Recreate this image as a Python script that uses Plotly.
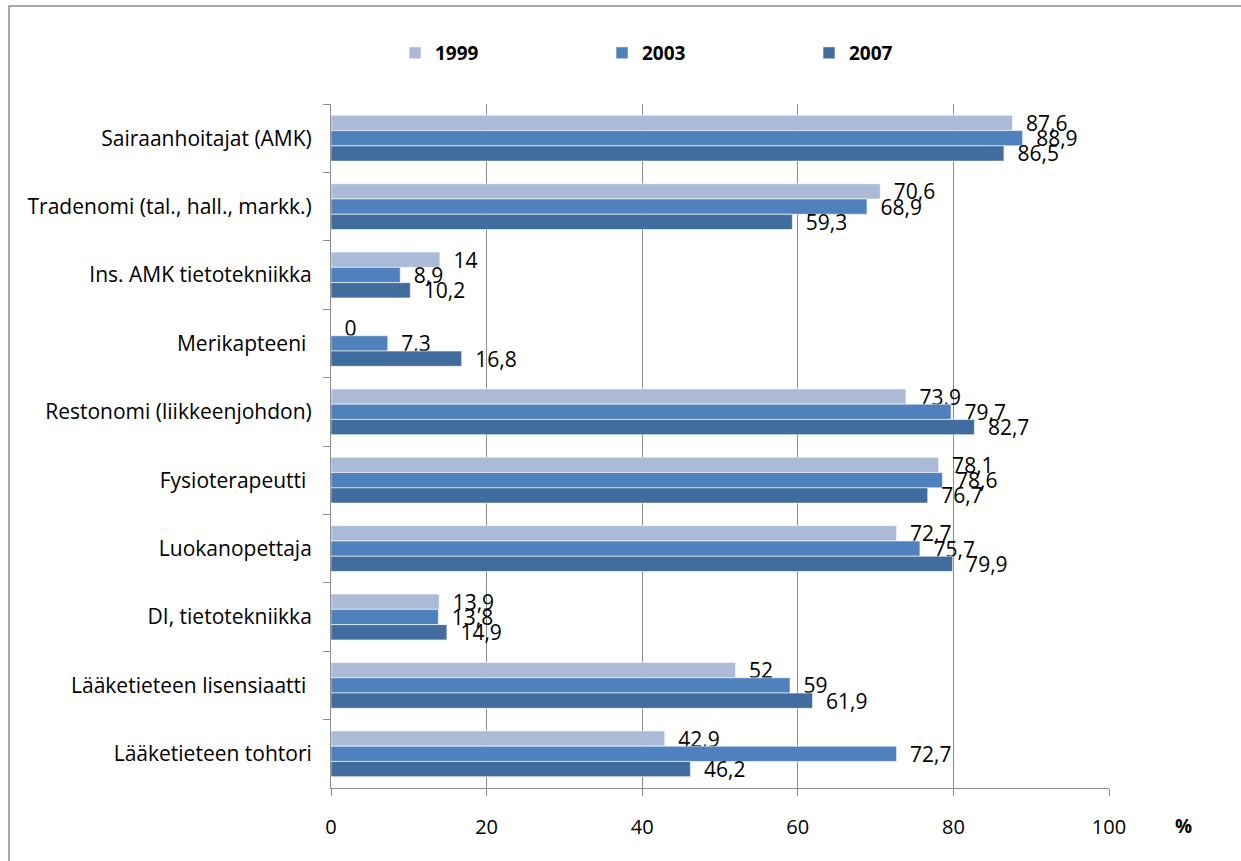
import plotly.graph_objects as go

categories = [
    "Sairaanhoitajat (AMK)",
    "Tradenomi (tal., hall., markk.)",
    "Ins. AMK tietotekniikka",
    "Merikapteeni\u00a0",
    "Restonomi (liikkeenjohdon)",
    "Fysioterapeutti\u00a0",
    "Luokanopettaja",
    "DI, tietotekniikka",
    "Lääketieteen lisensiaatti\u00a0",
    "Lääketieteen tohtori",
]
series_names = ["1999", "2003", "2007"]
values_1999 = [87.6, 70.6, 14, 0, 73.9, 78.1, 72.7, 13.9, 52, 42.9]
values_2003 = [88.9, 68.9, 8.9, 7.3, 79.7, 78.6, 75.7, 13.8, 59, 72.7]
values_2007 = [86.5, 59.3, 10.2, 16.8, 82.7, 76.7, 79.9, 14.9, 61.9, 46.2]
x_ticks = [0, 20, 40, 60, 80, 100]
colors = ["#AABAD7", "#4F81BD", "#416C9E"]

FONT = "Open Sans"

def lab(v):
    return "\u2002" + f"{v:g}".replace(".", ",")

fig = go.Figure()
for name, vals, col in zip(series_names, [values_1999, values_2003, values_2007], colors):
    fig.add_trace(go.Bar(
        y=categories, x=vals, name=name, orientation="h",
        marker=dict(color=col, line=dict(color="rgba(255,255,255,0.6)", width=1)),
        text=[lab(v) for v in vals], textposition="outside", constraintext="none",
        textfont=dict(family=FONT, size=21, color="black"),
        cliponaxis=False, hoverinfo="x+y",
    ))

W, H = 1241, 861
L, R, T, B = 331, 1109, 104, 788
pw, ph = R - L, B - T

fig.update_layout(
    width=W, height=H,
    margin=dict(l=L, r=W - R, t=T, b=H - B, autoexpand=False),
    paper_bgcolor="white", plot_bgcolor="white",
    barmode="group", bargap=0.33, bargroupgap=0,
    font=dict(family=FONT, size=18, color="black"),
    legend=dict(
        orientation="h", x=(395 - L) / pw, xanchor="left",
        y=1 + (T - 53) / ph, yanchor="middle",
        font=dict(family=FONT, size=19, color="black", weight="bold"),
        entrywidth=162, entrywidthmode="pixels", traceorder="normal",
        bgcolor="rgba(0,0,0,0)", itemwidth=30,
    ),
    showlegend=True,
)
fig.update_xaxes(
    range=[0, 100], tickvals=x_ticks, ticktext=[str(t) for t in x_ticks],
    showgrid=True, gridcolor="#8C8C8C", gridwidth=1,
    showline=True, linecolor="#8C8C8C", linewidth=1,
    ticks="outside", ticklen=7, tickcolor="#8C8C8C",
    ticklabelstandoff=14, zeroline=False,
    tickfont=dict(family=FONT, size=20, color="black"),
)
fig.update_yaxes(
    autorange="reversed", type="category",
    showline=True, linecolor="#8C8C8C", linewidth=1,
    ticks="outside", ticklen=7, tickcolor="#8C8C8C", tickson="boundaries",
    ticklabelstandoff=14, showgrid=False,
    tickfont=dict(family=FONT, size=21, color="black"),
)
fig.add_annotation(
    text="<b>%</b>", xref="paper", yref="paper",
    x=(1183 - L) / pw, y=-(826 - B) / ph, xanchor="center", yanchor="middle",
    showarrow=False, font=dict(family=FONT, size=19, color="black"),
)
fig.add_shape(
    type="rect", xref="paper", yref="paper",
    x0=(9 - L) / pw, x1=(1260 - L) / pw,
    y0=-(880 - B) / ph, y1=(B - 6) / ph,
    line=dict(color="#8C8C8C", width=1.5), fillcolor="rgba(0,0,0,0)", layer="below",
)
fig.write_html("out.html", post_script="document.body.style.margin='0';",
               config={"displayModeBar": False})
